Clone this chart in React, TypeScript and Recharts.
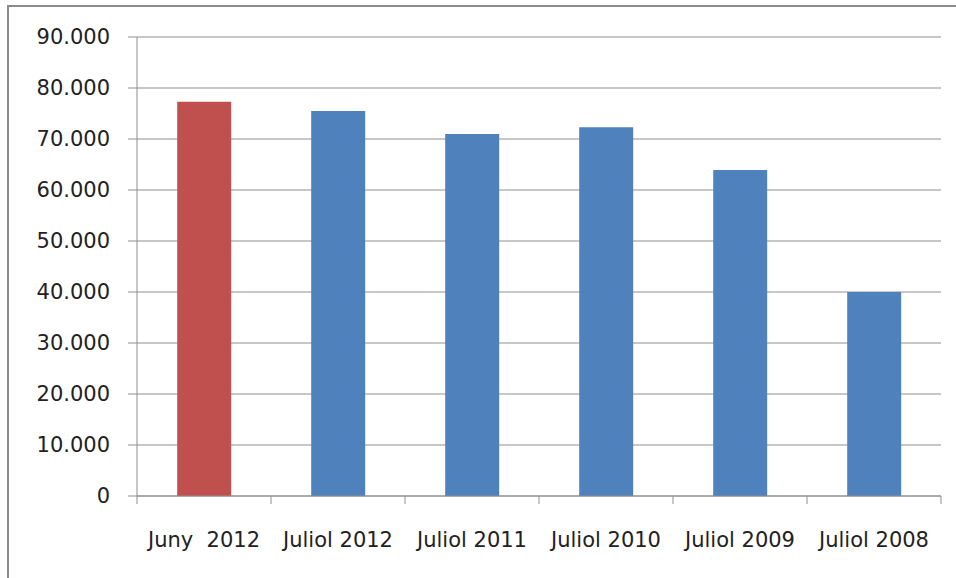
import React from 'react';
import { BarChart, Bar, XAxis, YAxis, CartesianGrid, Cell } from 'recharts';

const categories = ['Juny  2012', 'Juliol 2012', 'Juliol 2011', 'Juliol 2010', 'Juliol 2009', 'Juliol 2008'];
const values = [77300, 75500, 71000, 72300, 63900, 40000];
const barColors = ['#C0504D', '#4F81BD', '#4F81BD', '#4F81BD', '#4F81BD', '#4F81BD'];
const yTicks = [0, 10000, 20000, 30000, 40000, 50000, 60000, 70000, 80000, 90000];

const data = categories.map((c, i) => ({ name: c, value: values[i] }));

const fmt = (v: number) => {
  const s = String(Math.round(v));
  return s.replace(/\B(?=(\d{3})+(?!\d))/g, '.');
};

const GRID = '#8f8f8f';
const TEXT = '#222';
const FONT = '"DejaVu Sans", Verdana, sans-serif';

const CatTick = (props: any) => {
  const { x, y, payload, index, visibleTicksCount } = props;
  const half = payload?.offset ?? 0;
  const axisY = y - 36;
  return (
    <g>
      <line x1={x - half} x2={x - half} y1={axisY} y2={axisY + 8} stroke={GRID} strokeWidth={1} />
      {index === visibleTicksCount - 1 && (
        <line x1={x + half} x2={x + half} y1={axisY} y2={axisY + 8} stroke={GRID} strokeWidth={1} />
      )}
      <text
        x={x}
        y={y}
        dy="0.71em"
        textAnchor="middle"
        fill={TEXT}
        fontSize={21}
        fontFamily={FONT}
        style={{ whiteSpace: 'pre' }}
      >
        {payload.value}
      </text>
    </g>
  );
};

export default function App() {
  return (
    <div style={{ position: 'absolute', left: 0, top: 0, width: 956, height: 578, background: '#fff', overflow: 'hidden' }}>
      <div
        style={{
          position: 'absolute',
          left: 7,
          top: 5,
          width: 1000,
          height: 1000,
          borderLeft: '2px solid #8a8a8a',
          borderTop: '2px solid #8a8a8a',
        }}
      />
      <div style={{ position: 'absolute', left: 0, top: 0 }}>
        <BarChart
          width={956}
          height={578}
          data={data}
          margin={{ top: 37, right: 15, bottom: 0, left: 0 }}
          barCategoryGap="30%"
        >
          <CartesianGrid vertical={false} stroke={GRID} strokeWidth={1} />
          <XAxis
            dataKey="name"
            height={82}
            axisLine={{ stroke: GRID }}
            tickLine={false}
            tickSize={0}
            tickMargin={36}
            interval={0}
            tick={<CatTick />}
          />
          <YAxis
            width={137}
            domain={[0, 90000]}
            ticks={yTicks}
            interval={0}
            axisLine={{ stroke: GRID }}
            tickLine={{ stroke: GRID }}
            tickSize={9}
            tickMargin={18}
            tickFormatter={fmt}
            tick={{ fill: TEXT, fontSize: 21, fontFamily: FONT }}
          />
          <Bar dataKey="value" isAnimationActive={false}>
            {data.map((d, i) => (
              <Cell key={d.name} fill={barColors[i]} />
            ))}
          </Bar>
        </BarChart>
      </div>
    </div>
  );
}
